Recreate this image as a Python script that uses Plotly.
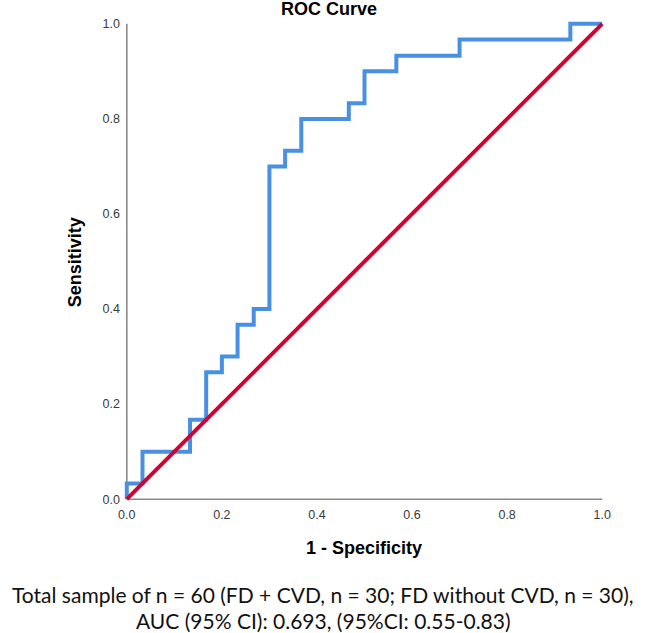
import plotly.graph_objects as go

# ROC step curve corners (1 - specificity, sensitivity)
fpr = [0.0, 0.0, 0.033, 0.033, 0.133, 0.133, 0.167, 0.167, 0.2, 0.2, 0.233, 0.233,
       0.267, 0.267, 0.3, 0.3, 0.333, 0.333, 0.367, 0.367, 0.467, 0.467, 0.5, 0.5,
       0.567, 0.567, 0.7, 0.7, 0.933, 0.933, 1.0]
tpr = [0.0, 0.033, 0.033, 0.1, 0.1, 0.167, 0.167, 0.267, 0.267, 0.3, 0.3, 0.367,
       0.367, 0.4, 0.4, 0.7, 0.7, 0.733, 0.733, 0.8, 0.8, 0.833, 0.833, 0.9,
       0.9, 0.933, 0.933, 0.967, 0.967, 1.0, 1.0]
ref_x = [0.0, 1.0]
ref_y = [0.0, 1.0]
tick_vals = [0.0, 0.2, 0.4, 0.6, 0.8, 1.0]
tick_text = ["0.0", "0.2", "0.4", "0.6", "0.8", "1.0"]

title = "ROC Curve"
x_title = "1 - Specificity"
y_title = "Sensitivity"
caption = ["Total sample of n = 60 (FD + CVD, n = 30; FD without CVD, n = 30),",
           "AUC (95% CI): 0.693, (95%CI: 0.55-0.83)"]

W, H = 646, 633
pad = 0.008
x0px, x1px = 126.5, 602.5
y1px, y0px = 24, 499
unit_x = x1px - x0px
unit_y = y0px - y1px
L = x0px - pad * unit_x
R = W - (x1px + pad * unit_x)
T = y1px - pad * unit_y
B = H - (y0px + pad * unit_y)
pw = W - L - R
ph = H - T - B

def px(xp):
    return (xp - L) / pw

def py(yp):
    return (H - B - yp) / ph

fig = go.Figure()
fig.add_trace(go.Scatter(x=fpr, y=tpr, mode="lines",
                         line=dict(color="#4a90e2", width=4), hoverinfo="skip"))
fig.add_trace(go.Scatter(x=ref_x, y=ref_y, mode="lines",
                         line=dict(color="#d7002e", width=4), hoverinfo="skip"))

axis_col = "#8a8a8a"
fig.add_shape(type="line", xref="x", yref="y", x0=0, y0=0, x1=1, y1=0,
              line=dict(color=axis_col, width=1.6), layer="below")
fig.add_shape(type="line", xref="x", yref="y", x0=0, y0=0, x1=0, y1=1,
              line=dict(color=axis_col, width=1.6), layer="below")

tick_font = dict(family="Liberation Sans, Arial", size=12.5, color="#3a3a3a")
fig.update_xaxes(range=[-pad, 1 + pad], showgrid=False, zeroline=False, showline=False,
                 tickvals=tick_vals, ticktext=tick_text, ticks="", tickfont=tick_font,
                 ticklabelstandoff=2, fixedrange=True)
fig.update_yaxes(range=[-pad, 1 + pad], showgrid=False, zeroline=False, showline=False,
                 tickvals=tick_vals, ticktext=tick_text, ticks="", tickfont=tick_font,
                 ticklabelstandoff=2, fixedrange=True)

bold = dict(family="Liberation Sans, Arial", size=18, color="#000000")
anns = [
    dict(text="<b>%s</b>" % title, x=px(329), y=py(9)),
    dict(text="<b>%s</b>" % x_title, x=px(364), y=py(548)),
    dict(text="<b>%s</b>" % y_title, x=px(75), y=py(262), textangle=-90),
]
for a in anns:
    fig.add_annotation(xref="paper", yref="paper", showarrow=False,
                       xanchor="center", yanchor="middle", font=bold, **a)

cap_font = dict(family="Lato, Noto Sans", size=21, color="#111111")
fig.add_annotation(text=caption[0], xref="paper", yref="paper", x=px(323), y=py(594),
                   showarrow=False, xanchor="center", yanchor="middle", font=cap_font)
fig.add_annotation(text=caption[1], xref="paper", yref="paper", x=px(323), y=py(620),
                   showarrow=False, xanchor="center", yanchor="middle", font=cap_font)

fig.update_layout(width=W, height=H, margin=dict(l=L, r=R, t=T, b=B, autoexpand=False),
                  plot_bgcolor="white", paper_bgcolor="white", showlegend=False)

fig.write_html("out.html", config={"displayModeBar": False})
